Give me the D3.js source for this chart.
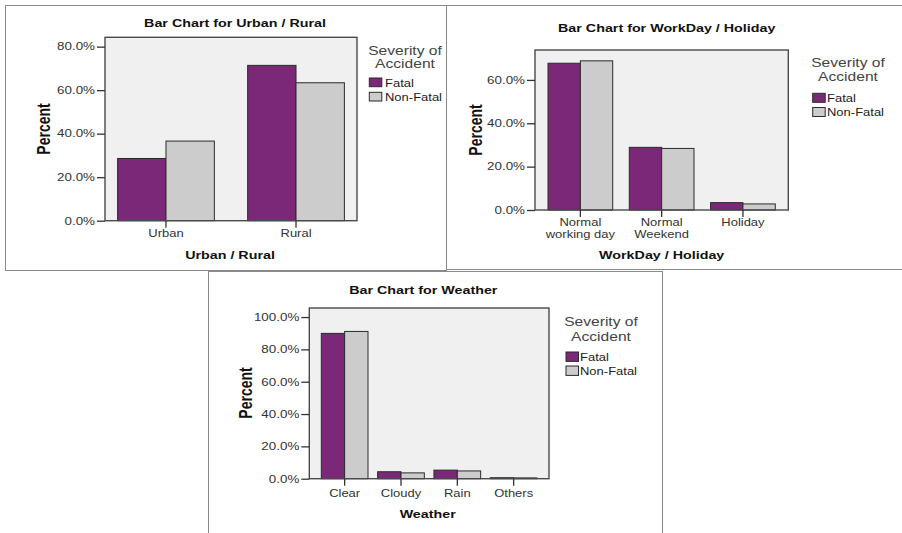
<!DOCTYPE html>
<html><head><meta charset="utf-8">
<script src="https://cdn.jsdelivr.net/npm/d3@7"></script>
<style>body{margin:0;background:#fff;overflow:hidden} svg{display:block}</style>
</head><body><svg id="c" width="902" height="533"></svg>
<script>
// ---------- data ----------
const seriesNames = ["Fatal", "Non-Fatal"];
const legendTitle = ["Severity of", "Accident"];

const urbanCategories = ["Urban", "Rural"];
const urbanTickLabels = [["Urban"], ["Rural"]];
const urbanFatal = [28.6, 71.4];
const urbanNonFatal = [36.6, 63.4];
const urbanTicks = [0, 20, 40, 60, 80];

const workdayCategories = ["Normal working day", "Normal Weekend", "Holiday"];
const workdayTickLabels = [["Normal", "working day"], ["Normal", "Weekend"], ["Holiday"]];
const workdayFatal = [67.7, 28.9, 3.4];
const workdayNonFatal = [68.8, 28.4, 2.8];
const workdayTicks = [0, 20, 40, 60];

const weatherCategories = ["Clear", "Cloudy", "Rain", "Others"];
const weatherTickLabels = [["Clear"], ["Cloudy"], ["Rain"], ["Others"]];
const weatherFatal = [89.9, 4.3, 5.3, 0.6];
const weatherNonFatal = [91.1, 3.6, 4.8, 0.5];
const weatherTicks = [0, 20, 40, 60, 80, 100];

// ---------- style ----------
const SX = 1.3;             // horizontal stretch of the original rendering
const FONT = "'Liberation Sans', Arial, sans-serif";
const COLORS = ["#7b2879", "#cccccc"];

const svg = d3.select("#c");

function txt(g, x, y, s, o) {
  o = o || {};
  return g.append("text")
    .attr("transform", `translate(${x},${y}) scale(${SX},1)` + (o.rotate ? ` rotate(${o.rotate})` : ""))
    .attr("text-anchor", o.anchor || "middle")
    .attr("font-family", FONT)
    .attr("font-size", o.size || 10)
    .attr("font-weight", o.bold ? "bold" : "normal")
    .attr("fill", o.fill || "#222")
    .text(s);
}

function panel(cfg) {
  const g = svg.append("g");
  const [bx0, by0, bx1, by1] = cfg.border;
  g.append("rect").attr("x", bx0 + 0.5).attr("y", by0 + 0.5)
    .attr("width", bx1 - bx0).attr("height", by1 - by0)
    .attr("fill", "#fff").attr("stroke", "#8a8a8a").attr("stroke-width", 1);

  const p = cfg.plot;
  const y = d3.scaleLinear().domain([0, cfg.yMax]).range([p.y1, p.y0]);
  const x0 = d3.scaleBand().domain(cfg.categories).range([p.x0, p.x1])
    .paddingInner(cfg.pi).paddingOuter(cfg.po);
  const x1 = d3.scaleBand().domain(seriesNames).range([0, x0.bandwidth()]);

  g.append("rect").attr("x", p.x0).attr("y", p.y0)
    .attr("width", p.x1 - p.x0).attr("height", p.y1 - p.y0).attr("fill", "#f0f0f0");

  const rows = cfg.categories.map((c, i) => ({ c, vals: [cfg.fatal[i], cfg.nonFatal[i]] }));
  g.selectAll("g.cat").data(rows).join("g").attr("class", "cat")
    .attr("transform", d => `translate(${x0(d.c)},0)`)
    .selectAll("rect").data(d => d.vals.map((v, k) => ({ k, v })))
    .join("rect")
    .attr("x", d => x1(seriesNames[d.k]))
    .attr("y", d => y(d.v))
    .attr("width", x1.bandwidth())
    .attr("height", d => y(0) - y(d.v))
    .attr("fill", d => COLORS[d.k])
    .attr("stroke", "#2b2b2b").attr("stroke-width", 1);

  // frame
  g.append("rect").attr("x", p.x0).attr("y", p.y0)
    .attr("width", p.x1 - p.x0).attr("height", p.y1 - p.y0)
    .attr("fill", "none").attr("stroke", "#4a4a4a").attr("stroke-width", 1.4);

  // y axis
  const ya = g.append("g").attr("transform", `translate(${p.x0},0)`)
    .call(d3.axisLeft(y).tickValues(cfg.ticks).tickFormat(d => d.toFixed(1) + "%")
      .tickSize(8).tickPadding(2).tickSizeOuter(0));
  ya.select(".domain").remove();
  ya.selectAll(".tick line").attr("stroke", "#333").attr("stroke-width", 1.3);
  ya.selectAll(".tick text")
    .attr("x", -10 / SX)
    .attr("transform", `scale(${SX},1)`)
    .attr("font-family", FONT).attr("font-size", 10.3).attr("fill", "#333");

  // x axis ticks
  const xa = g.append("g").attr("transform", `translate(0,${p.y1})`)
    .call(d3.axisBottom(x0).tickFormat("").tickSize(7).tickSizeOuter(0));
  xa.select(".domain").remove();
  xa.selectAll(".tick line").attr("stroke", "#333").attr("stroke-width", 1.3);

  cfg.categories.forEach((c, i) => {
    cfg.tickLabels[i].forEach((line, j) => {
      txt(g, x0(c) + x0.bandwidth() / 2, cfg.xLabelY + j * 11.5, line, { size: 10, fill: "#333" });
    });
  });

  // titles
  txt(g, cfg.title[0], cfg.title[1], cfg.titleText, { size: 11, bold: true, fill: "#111" });
  txt(g, cfg.xTitle[0], cfg.xTitle[1], cfg.xTitleText, { size: 11, bold: true, fill: "#111" });
  txt(g, cfg.yTitle[0], cfg.yTitle[1], "Percent", { size: 14, bold: true, fill: "#111", rotate: -90 })
    .attr("dominant-baseline", "central");

  // legend
  const L = cfg.legend;
  txt(g, L.cx, L.t1, legendTitle[0], { size: 12, fill: "#444" });
  txt(g, L.cx, L.t2, legendTitle[1], { size: 12, fill: "#444" });
  seriesNames.forEach((s, k) => {
    g.append("rect").attr("x", L.sx).attr("y", L.sy[k]).attr("width", 12.5).attr("height", L.sh)
      .attr("fill", COLORS[k]).attr("stroke", "#2b2b2b").attr("stroke-width", 1);
    txt(g, L.tx, L.ty[k], s, { size: 10, anchor: "start", fill: "#222" });
  });
}

panel({
  border: [5, 5, 446, 270],
  plot: { x0: 105, x1: 357, y0: 37.3, y1: 220.7 },
  yMax: 84.3, pi: 0.256, po: 0.097,
  categories: urbanCategories, tickLabels: urbanTickLabels,
  fatal: urbanFatal, nonFatal: urbanNonFatal, ticks: urbanTicks,
  xLabelY: 237,
  titleText: "Bar Chart for Urban / Rural", title: [235, 26.7],
  xTitleText: "Urban / Rural", xTitle: [230, 259],
  yTitle: [43, 129],
  legend: { cx: 405, t1: 55, t2: 67.7, sx: 369.3, sh: 8.7, sy: [78, 92.3], tx: 385, ty: [86.5, 100.8] }
});

panel({
  border: [446, 5, 910, 269],
  plot: { x0: 535, x1: 788.3, y0: 50, y1: 210 },
  yMax: 73.8, pi: 0.204, po: 0.16,
  categories: workdayCategories, tickLabels: workdayTickLabels,
  fatal: workdayFatal, nonFatal: workdayNonFatal, ticks: workdayTicks,
  xLabelY: 226.2,
  titleText: "Bar Chart for WorkDay / Holiday", title: [666.7, 31.7],
  xTitleText: "WorkDay / Holiday", xTitle: [661.7, 259.3],
  yTitle: [475, 130],
  legend: { cx: 848, t1: 66.7, t2: 80.7, sx: 812.7, sh: 9, sy: [93.3, 107.5], tx: 827, ty: [102, 116] }
});

panel({
  border: [208, 271, 662, 545],
  plot: { x0: 309.3, x1: 549, y0: 308, y1: 478.7 },
  yMax: 105.6, pi: 0.171, po: 0.213,
  categories: weatherCategories, tickLabels: weatherTickLabels,
  fatal: weatherFatal, nonFatal: weatherNonFatal, ticks: weatherTicks,
  xLabelY: 497.3,
  titleText: "Bar Chart for Weather", title: [423.3, 294],
  xTitleText: "Weather", xTitle: [427.7, 518],
  yTitle: [245, 393],
  legend: { cx: 601, t1: 326.3, t2: 340.7, sx: 566, sh: 9.4, sy: [352, 366], tx: 580, ty: [361, 375] }
});
</script>
</body></html>
